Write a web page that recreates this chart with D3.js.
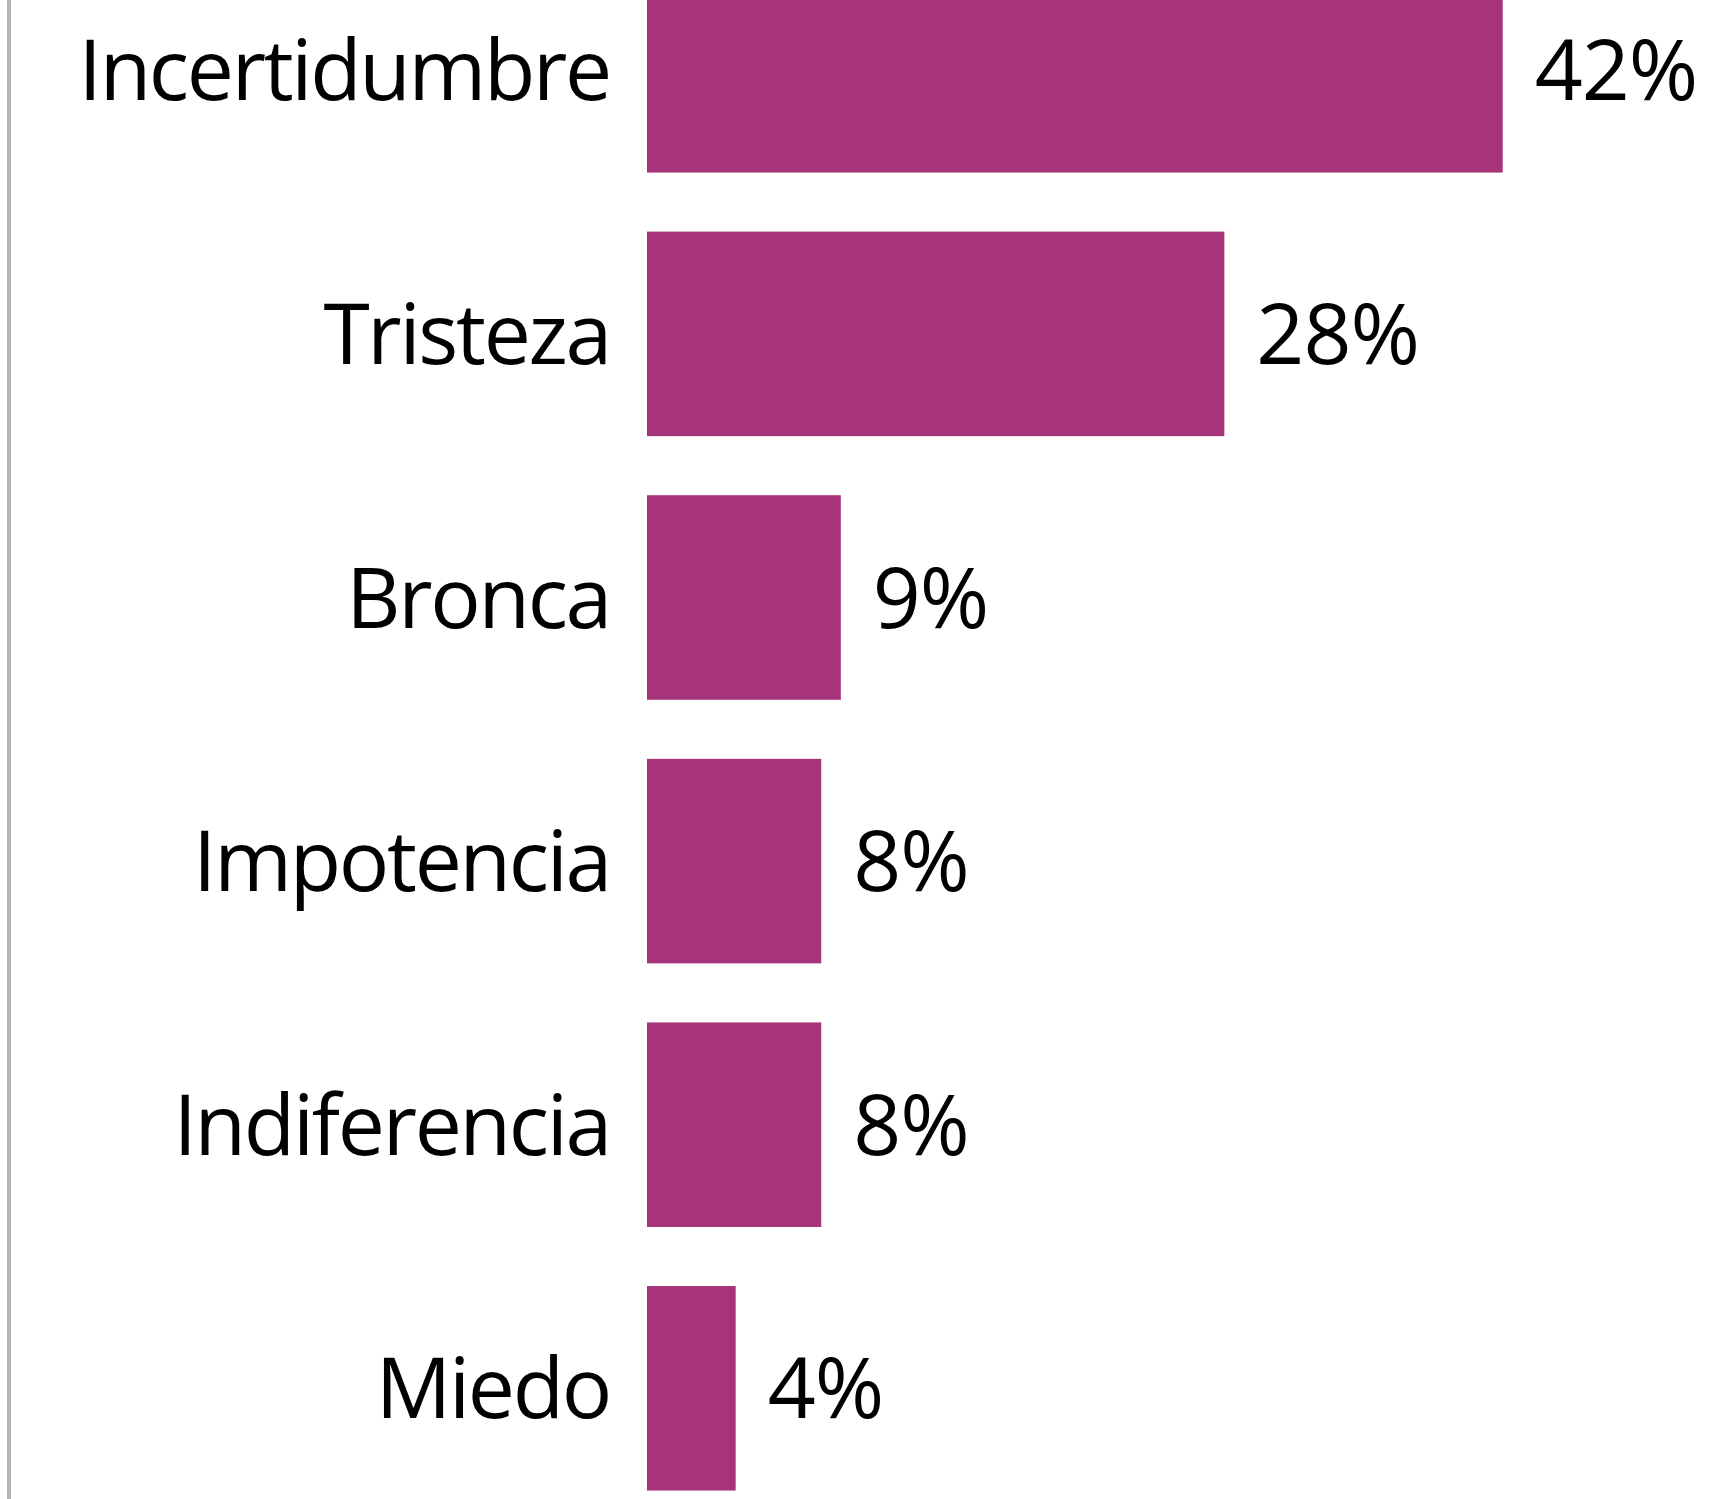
<!DOCTYPE html>
<html>
<head>
<meta charset="utf-8">
<script src="https://cdn.jsdelivr.net/npm/d3@7"></script>
<style>
  html, body { margin: 0; padding: 0; background: #ffffff; }
  svg { display: block; }
</style>
</head>
<body>
<svg id="chart" width="1730" height="1499"></svg>
<script>
// Data
const categories = ["Incertidumbre", "Tristeza", "Bronca", "Impotencia", "Indiferencia", "Miedo"];
const values = [41.5, 28.0, 9.4, 8.45, 8.45, 4.3];
const valueLabels = ["42%", "28%", "9%", "8%", "8%", "4%"];

const W = 1730, H = 1499;
const svg = d3.select("#chart");

const fontFamily = "'Open Sans', 'Noto Sans', sans-serif";
const fontSize = 84;
const barColor = "#a7347a";

const x = d3.scaleLinear().domain([0, 50]).range([647, 647 + 50 * 20.62]);
const y = d3.scaleBand()
  .domain(categories)
  .range([-61.5, -61.5 + 6 * 263.6])
  .paddingInner(0.224)
  .paddingOuter(0.112);

// left gray rule
svg.append("line")
  .attr("x1", 9).attr("x2", 9)
  .attr("y1", 0).attr("y2", H)
  .attr("stroke", "#b5b5b5")
  .attr("stroke-width", 4);

const rows = categories.map((c, i) => ({ c, v: values[i], lab: valueLabels[i] }));

svg.append("g").selectAll("rect")
  .data(rows).join("rect")
  .attr("x", x(0))
  .attr("y", d => y(d.c))
  .attr("width", d => x(d.v) - x(0))
  .attr("height", y.bandwidth())
  .attr("fill", barColor);

const capHalf = 30;

svg.append("g").selectAll("text")
  .data(rows).join("text")
  .attr("x", 610)
  .attr("y", d => y(d.c) + y.bandwidth() / 2 + capHalf)
  .attr("text-anchor", "end")
  .attr("font-family", fontFamily)
  .attr("font-size", fontSize)
  .attr("letter-spacing", "-2.3px")
  .attr("fill", "#000")
  .text(d => d.c);

svg.append("g").selectAll("text")
  .data(rows).join("text")
  .attr("x", d => x(d.v) + 32)
  .attr("y", d => y(d.c) + y.bandwidth() / 2 + capHalf)
  .attr("text-anchor", "start")
  .attr("font-family", fontFamily)
  .attr("font-size", fontSize)
  .attr("letter-spacing", "-1px")
  .attr("fill", "#000")
  .text(d => d.lab);
</script>
</body>
</html>
